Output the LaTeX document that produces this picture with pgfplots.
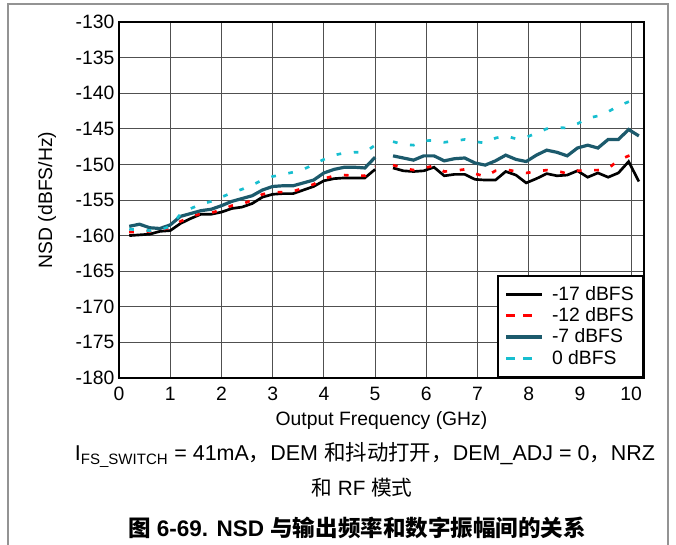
\documentclass[border=0pt]{standalone}
\usepackage{fontspec}
\setmainfont{Liberation Sans}
\newfontfamily\cjk{Noto Sans CJK SC}
\usepackage{pgfplots}
\usepackage{pgfplotstable}
\pgfplotsset{compat=1.18}
\definecolor{teal7}{RGB}{28,90,108}
\definecolor{cyan0}{RGB}{23,190,207}
\definecolor{gridc}{RGB}{80,80,80}
\pgfplotsset{
  solidleg/.style={legend image code/.code={\draw[##1] (0pt,0pt) -- (27pt,0pt);}},
  dashleg/.style={legend image code/.code={\draw[##1, dash pattern=on 6.5pt off 6pt] (0pt,0pt) -- (19pt,0pt);}},
}

\pgfplotstableread{
x a b c d
0.2 -160.0 -159.5 -158.7 -159.1
0.4 -159.9 -159.5 -158.4 -159.2
0.6 -159.8 -159.4 -158.9 -159.3
0.8 -159.4 -159.2 -159.0 -159.2
1.0 -159.3 -158.9 -158.5 -158.7
1.2 -158.3 -158.0 -157.3 -157.0
1.4 -157.6 -157.4 -156.9 -156.2
1.6 -157.0 -156.9 -156.5 -155.6
1.8 -157.0 -156.8 -156.3 -155.2
2.0 -156.7 -156.4 -155.8 -154.6
2.2 -156.2 -155.8 -155.2 -154.0
2.4 -156.0 -155.6 -154.8 -153.5
2.6 -155.5 -155.0 -154.4 -152.9
2.8 -154.6 -154.2 -153.6 -152.2
3.0 -154.2 -153.9 -153.1 -151.7
3.2 -154.1 -153.9 -153.0 -151.4
3.4 -154.1 -153.8 -153.0 -151.1
3.6 -153.6 -153.3 -152.6 -150.7
3.8 -153.1 -152.8 -152.2 -150.0
4.0 -152.3 -152.0 -151.2 -149.3
4.2 -152.0 -151.6 -150.7 -148.7
4.4 -151.9 -151.5 -150.4 -148.4
4.6 -151.9 -151.6 -150.4 -148.3
4.8 -151.9 -151.6 -150.5 -148.3
5.0 -150.7 -150.3 -149.0 -147.3
5.2 nan nan nan nan
5.35 -150.5 -150.1 -148.8 -146.8
5.55 -150.9 -150.5 -149.1 -147.2
5.75 -151.0 -150.8 -149.4 -147.3
5.95 -150.9 -150.5 -148.8 -146.7
6.15 -150.4 -150.2 -148.8 -146.6
6.35 -151.6 -151.0 -149.5 -146.9
6.55 -151.4 -150.9 -149.2 -146.7
6.75 -151.4 -150.7 -149.1 -146.5
6.95 -152.1 -151.3 -149.8 -146.8
7.15 -152.2 -151.7 -150.1 -147.0
7.35 -152.2 -150.9 -149.5 -146.3
7.55 -151.0 -150.7 -148.7 -146.0
7.75 -151.5 -151.0 -149.3 -146.4
7.95 -152.6 -151.2 -149.6 -146.2
8.15 -152.0 -151.0 -148.7 -145.6
8.35 -151.3 -150.8 -148.0 -145.0
8.55 -151.6 -150.9 -148.3 -144.8
8.75 -151.5 -151.3 -148.8 -144.9
8.95 -150.9 -150.9 -147.7 -144.3
9.15 -151.8 -150.8 -147.3 -143.5
9.35 -151.2 -150.8 -147.7 -143.2
9.55 -151.8 -150.6 -146.5 -142.6
9.75 -151.2 -149.4 -146.5 -141.8
9.95 -149.6 -148.8 -145.1 -141.2
10.15 -152.4 -148.3 -146.0 -140.7
}\nsd

\begin{document}
\begin{tikzpicture}
\path[use as bounding box] (0,0) rectangle (507pt,-408.75pt);
\draw[gray!85, line width=1.2pt] (6pt,-409pt) -- (6pt,-3pt) -- (501pt,-3pt) -- (501pt,-409pt);
\begin{axis}[
  at={(89.25pt,-16.5pt)}, anchor=north west,
  width=393.75pt, height=267pt, scale only axis,
  xmin=0, xmax=10.25, ymin=-180, ymax=-130,
  xtick={0,1,...,10}, ytick={-180,-175,...,-130},
  unbounded coords=jump,
  grid=major, major grid style={gridc, line width=0.7pt},
  major tick length=0pt,
  axis line style={line width=2pt},
  /pgf/number format/assume math mode=true,
  tick label style={font=\fontsize{14.5}{16}\selectfont},
  xticklabel style={yshift=-3pt},
  label style={font=\fontsize{14.5}{16}\selectfont},
  xlabel={Output Frequency (GHz)},
  ylabel={NSD (dBFS/Hz)},
  xlabel style={at={(axis description cs:0.5,-0.118)}, anchor=center},
  ylabel style={at={(axis description cs:-0.1371,0.5)}, anchor=center},
  legend cell align=left,
  legend style={at={(1,0)}, anchor=south east, draw=black, line width=1.5pt,
    font=\fontsize{14.5}{16}\selectfont, inner xsep=5pt, inner ysep=6pt,
    row sep=0pt, /tikz/every odd column/.append style={column sep=4pt}},
]
\addplot[black, line width=2pt, solidleg] table[x=x,y=a]{\nsd};
\addplot[red, line width=2pt, dash pattern=on 3.5pt off 9.5pt, dashleg] table[x=x,y=b]{\nsd};
\addplot[teal7, line width=2.4pt, solidleg] table[x=x,y=c]{\nsd};
\addplot[cyan0, line width=2pt, dash pattern=on 3.5pt off 9.5pt, dashleg] table[x=x,y=d]{\nsd};
\legend{-17 dBFS, -12 dBFS, -7 dBFS, 0 dBFS}
\end{axis}
\node[font=\fontsize{16.1}{18}\selectfont] at (273.75pt,-341.25pt)
  {I\textsubscript{FS\_SWITCH} = 41mA{\cjk ，}DEM {\cjk 和抖动打开，}DEM\_ADJ = 0{\cjk ，}NRZ};
\node[font=\fontsize{15.5}{18}\selectfont] at (271.5pt,-366pt)
  {{\cjk 和} RF {\cjk 模式}};
\node[font=\fontsize{16.9}{18}\selectfont\bfseries] at (267.75pt,-396pt)
  {{\cjk 图} 6-69. NSD {\cjk 与输出频率和数字振幅间的关系}};
\end{tikzpicture}
\end{document}
